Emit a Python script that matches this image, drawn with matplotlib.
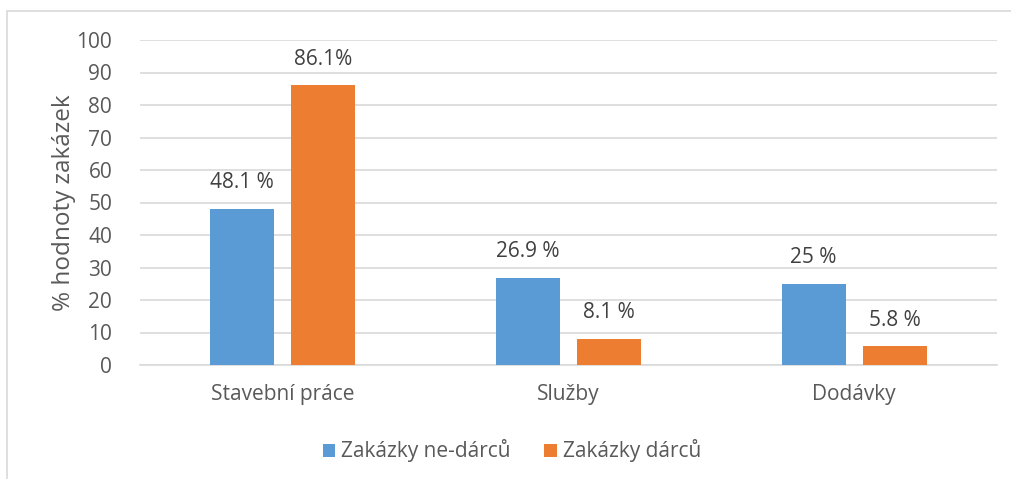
import numpy as np
import matplotlib.pyplot as plt
from matplotlib.patches import Rectangle

# data
categories = ['Stavební práce', 'Služby', 'Dodávky']
non_donors = [48.1, 26.9, 25.0]
donors = [86.1, 8.1, 5.8]
non_donor_labels = ['48.1 %', '26.9 %', '25 %']
donor_labels = ['86.1%', '8.1 %', '5.8 %']
series_names = ['Zakázky ne-dárců', 'Zakázky dárců']

blue = '#5b9bd5'
orange = '#ed7d31'
text_col = '#595959'
grid_col = '#d9d9d9'

plt.rcParams['font.family'] = ['Open Sans', 'DejaVu Sans']

fig = plt.figure(figsize=(10.12, 4.79), dpi=100)
ax = fig.add_axes([140 / 1012, 1 - 365 / 479, 857 / 1012, 325 / 479])

# outer chart frame
fig.patches.append(Rectangle((7 / 1012, -0.1), 1.2, (479 - 11) / 479 + 0.1,
                             transform=fig.transFigure, fill=False,
                             edgecolor=grid_col, linewidth=1.2))

x = np.arange(len(categories))
w = 0.224
off = 0.142
b1 = ax.bar(x - off, non_donors, w, color=blue, label=series_names[0], zorder=3)
b2 = ax.bar(x + off, donors, w, color=orange, label=series_names[1], zorder=3)

for bars, labels in ((b1, non_donor_labels), (b2, donor_labels)):
    for r, lab in zip(bars, labels):
        ax.annotate(lab, (r.get_x() + r.get_width() / 2, r.get_height()),
                    xytext=(0, 11), textcoords='offset points',
                    ha='center', va='bottom', fontsize=15, color='#404040')

ax.set_xlim(-0.5, 2.5)
ax.set_ylim(0, 100)
ax.set_yticks(range(0, 101, 10))
ax.yaxis.grid(True, color=grid_col, linewidth=1.2, zorder=0)
ax.set_axisbelow(True)
for s in ['top', 'right', 'left']:
    ax.spines[s].set_visible(False)
ax.spines['bottom'].set_color(grid_col)
ax.spines['bottom'].set_linewidth(1.2)
ax.tick_params(axis='both', length=0, labelsize=15, colors=text_col)
ax.tick_params(axis='y', pad=20)
ax.tick_params(axis='x', pad=14)
ax.set_xticks(x)
ax.set_xticklabels(categories)
ax.set_ylabel('% hodnoty zakázek', fontsize=17.5, color=text_col, labelpad=0)

fig.legend(loc='center', bbox_to_anchor=(512 / 1012, 1 - 451 / 479), ncol=2,
           frameon=False, fontsize=15, labelcolor=text_col,
           handlelength=0.6, handleheight=0.6, handletextpad=0.3,
           columnspacing=1.6)

fig.savefig('out.png', dpi=100)
